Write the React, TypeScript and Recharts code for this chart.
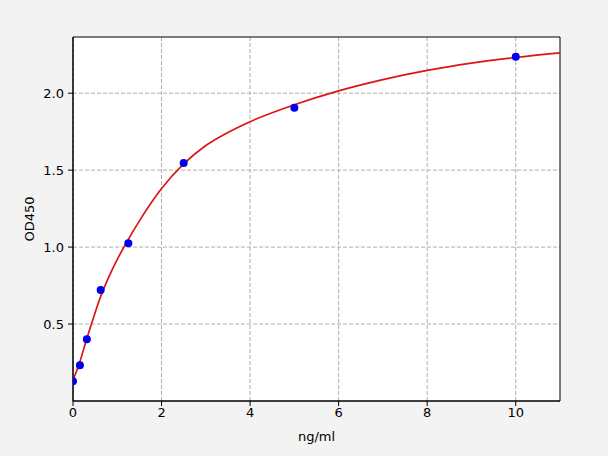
import { ComposedChart, Line, Scatter, XAxis, YAxis, CartesianGrid, ReferenceArea } from "recharts"

// standard points (ng/ml vs OD450)
const stdConc = [0, 0.156, 0.3125, 0.625, 1.25, 2.5, 5, 10]
const stdOD = [0.129, 0.233, 0.401, 0.721, 1.025, 1.546, 1.905, 2.237]

// fitted curve
const fitConc = [0, 0.15, 0.3, 0.45, 0.6, 0.8, 1.0, 1.25, 1.5, 2.0, 2.5, 3, 3.5, 4, 5, 6, 7, 8, 9, 10, 11]
const fitOD = [0.135, 0.25, 0.395, 0.53, 0.66, 0.8, 0.92, 1.05, 1.17, 1.38, 1.54, 1.66, 1.745, 1.815, 1.925, 2.015, 2.088, 2.148, 2.195, 2.232, 2.262]

const xTicks = [0, 2, 4, 6, 8, 10]
const yTicks = [0.5, 1.0, 1.5, 2.0]

const FONT = "DejaVu Sans, sans-serif"

export default function App() {
  const points = stdConc.map((x, i) => ({ x, y: stdOD[i] }))
  const curve = fitConc.map((x, i) => ({ x, y: fitOD[i] }))

  const tickStyle = { fontSize: 13, fill: "#000", fontFamily: FONT }

  return (
    <div style={{ position: "fixed", left: 0, top: 0, width: 608, height: 456, background: "#f3f3f3" }}>
      <ComposedChart width={608} height={456} margin={{ top: 37, right: 48, bottom: 11, left: 0 }}>
        <CartesianGrid
          fill="#fff"
          stroke="#b0b0b0"
          strokeDasharray="4 2"
          horizontalValues={yTicks}
          verticalValues={xTicks}
        />
        <XAxis
          type="number"
          dataKey="x"
          domain={[0, 11]}
          ticks={xTicks}
          allowDataOverflow
          height={44}
          tick={tickStyle}
          tickSize={5}
          tickMargin={2}
          stroke="#000"
          label={{ value: "ng/ml", position: "insideBottom", offset: 4, fontSize: 13, fill: "#000", fontFamily: FONT }}
        />
        <YAxis
          type="number"
          dataKey="y"
          domain={[0, 2.365]}
          ticks={yTicks}
          allowDataOverflow
          width={73}
          tick={tickStyle}
          tickSize={5}
          tickMargin={4}
          stroke="#000"
          tickFormatter={(v: number) => v.toFixed(1)}
          label={{
            content: (p: any) => {
              const vb = p.viewBox
              const cy = vb.y + vb.height / 2
              return (
                <text
                  x={29}
                  y={cy}
                  textAnchor="middle"
                  dominantBaseline="central"
                  transform={`rotate(-90 29 ${cy})`}
                  fontSize={13}
                  fill="#000"
                  fontFamily={FONT}
                >
                  OD450
                </text>
              )
            },
          }}
        />
        <Line
          data={curve}
          dataKey="y"
          type="monotone"
          stroke="#dc1414"
          strokeWidth={1.7}
          dot={false}
          isAnimationActive={false}
        />
        <Scatter data={points} dataKey="y" fill="#0000f0" shape={(p: any) => <circle cx={p.cx} cy={p.cy} r={4} fill="#0000f0" />} isAnimationActive={false} />
        <ReferenceArea x1={0} x2={11} y1={0} y2={2.365} fill="none" stroke="#000" strokeWidth={1} ifOverflow="visible" />
      </ComposedChart>
    </div>
  )
}
